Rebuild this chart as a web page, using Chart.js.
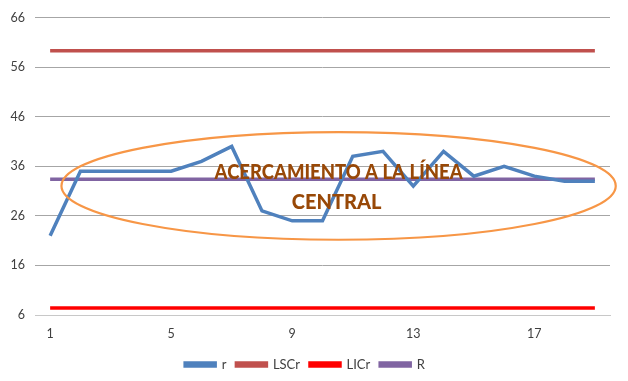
<!DOCTYPE html>
<html>
<head>
<meta charset="utf-8">
<script src="https://cdn.jsdelivr.net/npm/chart.js@4"></script>
<style>
  html, body { margin: 0; padding: 0; background: #ffffff; }
  #wrap { width: 628px; height: 381px; position: relative; }
</style>
</head>
<body>
<div id="wrap"><canvas id="chart" width="628" height="381"></canvas></div>
<script>
// Subgroup numbers
const categories = ['1','2','3','4','5','6','7','8','9','10','11','12','13','14','15','16','17','18','19'];
// Ranges per subgroup
const rValues   = [22, 35, 35, 35, 35, 37, 40, 27, 25, 25, 38, 39, 32, 39, 34, 36, 34, 33, 33];
// Upper control limit for ranges
const lscrValues = [59.3, 59.3, 59.3, 59.3, 59.3, 59.3, 59.3, 59.3, 59.3, 59.3, 59.3, 59.3, 59.3, 59.3, 59.3, 59.3, 59.3, 59.3, 59.3];
// Lower control limit for ranges
const licrValues = [7.4, 7.4, 7.4, 7.4, 7.4, 7.4, 7.4, 7.4, 7.4, 7.4, 7.4, 7.4, 7.4, 7.4, 7.4, 7.4, 7.4, 7.4, 7.4];
// Mean range (centre line)
const rBarValues = [33.37, 33.37, 33.37, 33.37, 33.37, 33.37, 33.37, 33.37, 33.37, 33.37, 33.37, 33.37, 33.37, 33.37, 33.37, 33.37, 33.37, 33.37, 33.37];
// Value axis ticks
const yTicks = [6, 16, 26, 36, 46, 56, 66];
// Callout text
const calloutLines = ['ACERCAMIENTO A LA LÍNEA', 'CENTRAL'];

const FONT = 'Lato, "Open Sans", sans-serif';

// Orange ellipse with the callout text over the plot
const calloutPlugin = {
  id: 'callout',
  afterDatasetsDraw(chart) {
    const { ctx, chartArea: a } = chart;
    const cx = a.left + (a.right - a.left) * 0.528;
    const cy = a.top + (a.bottom - a.top) * 0.566;
    const rx = (a.right - a.left) * 0.482;
    const ry = (a.bottom - a.top) * 0.181;
    ctx.save();
    ctx.beginPath();
    ctx.ellipse(cx, cy, rx, ry, 0, 0, Math.PI * 2);
    ctx.strokeStyle = '#F79646';
    ctx.lineWidth = 2.2;
    ctx.stroke();

    ctx.fillStyle = '#984807';
    ctx.font = '900 20px ' + FONT;
    ctx.textAlign = 'center';
    ctx.textBaseline = 'middle';
    ctx.fillText(calloutLines[0], cx, cy - 13, 248);
    ctx.fillText(calloutLines[1], cx - 2, cy + 17, 248);
    ctx.restore();
  }
};

const lineDs = (label, data, color) => ({
  label, data,
  borderColor: color,
  backgroundColor: color,
  borderWidth: 3.5,
  pointRadius: 0,
  pointHoverRadius: 0,
  tension: 0,
  fill: false
});

new Chart(document.getElementById('chart'), {
  type: 'line',
  data: {
    labels: categories,
    datasets: [
      lineDs('r', rValues, '#4F81BD'),
      lineDs('LSCr', lscrValues, '#C0504D'),
      lineDs('LICr', licrValues, '#FF0000'),
      lineDs('R', rBarValues, '#8064A2')
    ]
  },
  options: {
    responsive: false,
    animation: false,
    devicePixelRatio: 1,
    layout: { padding: { left: 0, right: 18, top: 5, bottom: 0 } },
    plugins: {
      tooltip: { enabled: false },
      legend: {
        position: 'bottom',
        labels: {
          boxWidth: 30,
          boxHeight: 3,
          padding: 10,
          color: '#404040',
          font: { family: FONT, size: 13 }
        }
      }
    },
    scales: {
      x: {
        offset: true,
        grid: { display: false, drawTicks: false },
        border: { display: true, color: '#C8C8C8', width: 1 },
        afterFit: (axis) => { axis.height = 33; },
        ticks: {
          autoSkip: false,
          maxRotation: 0,
          padding: 11,
          color: '#404040',
          font: { family: FONT, size: 12.5 },
          callback: function (v, i) { return i % 4 === 0 ? categories[i] : ''; }
        }
      },
      y: {
        min: 6,
        max: 66,
        afterBuildTicks: (axis) => { axis.ticks = yTicks.map(v => ({ value: v })); },
        afterFit: (axis) => { axis.width = 35; },
        grid: { color: '#A6A6A6', drawTicks: false, lineWidth: 1 },
        border: { display: false },
        ticks: {
          padding: 10,
          color: '#404040',
          font: { family: FONT, size: 12.5 }
        }
      }
    }
  },
  plugins: [calloutPlugin]
});
</script>
</body>
</html>
